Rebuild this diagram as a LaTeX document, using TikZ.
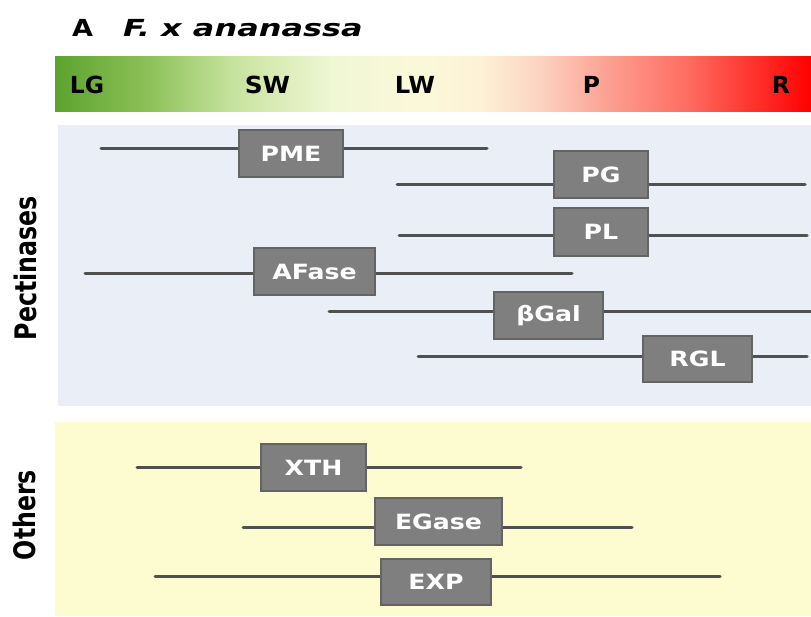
\documentclass[tikz,border=0pt]{standalone}
\usepackage{fontspec}
\setsansfont{DejaVu Sans}[BoldFont={DejaVu Sans Bold},ItalicFont={DejaVu Sans Oblique},BoldItalicFont={DejaVu Sans Bold Oblique}]
\definecolor{g0}{HTML}{5EA22E}
\definecolor{g1}{HTML}{8DC25A}
\definecolor{g2}{HTML}{C6E29C}
\definecolor{g3}{HTML}{EFF7D3}
\definecolor{g4}{HTML}{FBF8DA}
\definecolor{g5}{HTML}{FDF1D6}
\definecolor{g6}{HTML}{FCD3C0}
\definecolor{g7}{HTML}{FCA596}
\definecolor{g8}{HTML}{FE6A5E}
\definecolor{g9}{HTML}{FF0000}
\definecolor{pectbg}{HTML}{E9EEF7}
\definecolor{othbg}{HTML}{FDFBD0}
\definecolor{boxfill}{HTML}{7F7F7F}
\definecolor{boxedge}{HTML}{646464}
\definecolor{barcol}{HTML}{505050}
\newcommand{\bxt}[1]{\scalebox{1.2}[1]{#1}}
\pgfdeclarelayer{back}
\pgfdeclarelayer{lines}
\pgfsetlayers{back,lines,main}
\tikzset{
  enzbox/.style={draw=boxedge, fill=boxfill, line width=1.2pt, inner sep=0pt,
    minimum height=47pt, text=white, font=\sffamily\bfseries\fontsize{21}{24}\selectfont},
  bar/.style={draw=barcol, line width=3pt, line cap=round},
  stage/.style={anchor=base, inner sep=0pt, font=\sffamily\bfseries\fontsize{23.5}{26}\selectfont},
  grouplbl/.style={rotate=90, inner sep=0pt, font=\sffamily\bfseries\fontsize{23.7}{26}\selectfont},
  titlelbl/.style={anchor=base west, inner sep=0pt, font=\sffamily\bfseries\fontsize{23.5}{26}\selectfont}
}
\begin{document}
\begin{tikzpicture}[x=1pt,y=-1pt]
\useasboundingbox (0,0) rectangle (811,617);
\begin{pgfonlayer}{back}
\fill[white] (0,0) rectangle (811,617);
% gradient bar
\shade[left color=g0,right color=g1] (55,57) rectangle (151,112);
\shade[left color=g1,right color=g2] (150,57) rectangle (231,112);
\shade[left color=g2,right color=g3] (230,57) rectangle (331,112);
\shade[left color=g3,right color=g4] (330,57) rectangle (421,112);
\shade[left color=g4,right color=g5] (420,57) rectangle (481,112);
\shade[left color=g5,right color=g6] (480,57) rectangle (541,112);
\shade[left color=g6,right color=g7] (540,57) rectangle (601,112);
\shade[left color=g7,right color=g8] (600,57) rectangle (691,112);
\shade[left color=g8,right color=g9] (690,57) rectangle (811,112);
% panels
\fill[pectbg] (58,125) rectangle (811,406);
\fill[othbg] (55,422) rectangle (811,616);
\end{pgfonlayer}

% title
\node[titlelbl] (tA) at (72,37) {\scalebox{1.15}[1]{A}};
\node[titlelbl, font=\sffamily\bfseries\itshape\fontsize{23.5}{26}\selectfont] (tname) at (123,37) {\scalebox{1.36}[1]{F. x ananassa}};

% stage labels
\node[stage] (LG) at (87,94) {LG};
\node[stage] (SW) at (267.5,94) {\scalebox{1.06}[1]{SW}};
\node[stage] (LW) at (415,94) {\scalebox{1.03}[1]{LW}};
\node[stage] (P) at (591.5,94) {P};
\node[stage] (R) at (781,94) {R};

% group labels
\node[grouplbl] (pect) at (25,268) {\scalebox{1}[1.25]{Pectinases}};
\node[grouplbl] (oth) at (24,515) {\scalebox{1}[1.25]{Others}};

% enzyme boxes
\node[enzbox, minimum width=104pt] (pme) at (291,153.5) {\bxt{PME}};
\node[enzbox, minimum width=94pt] (pg) at (601,174.5) {\bxt{PG}};
\node[enzbox, minimum width=94pt, minimum height=48pt] (pl) at (601,232) {\bxt{PL}};
\node[enzbox, minimum width=121pt] (afase) at (314.5,271.5) {\bxt{AFase}};
\node[enzbox, minimum width=109pt] (bgal) at (548.5,315.5) {\bxt{βGal}};
\node[enzbox, minimum width=109pt, minimum height=46pt] (rgl) at (697.5,359) {\bxt{RGL}};
\node[enzbox, minimum width=105pt] (xth) at (313.5,467.5) {\bxt{XTH}};
\node[enzbox, minimum width=127pt] (egase) at (438.5,521.5) {\bxt{EGase}};
\node[enzbox, minimum width=110pt, minimum height=46pt] (exp) at (436,582) {\bxt{EXP}};

% line end points
\coordinate (pmeL) at (101,149);   \coordinate (pmeR) at (487,149);
\coordinate (pgL) at (397,185);    \coordinate (pgR) at (805,185);
\coordinate (plL) at (399,236);    \coordinate (plR) at (807,236);
\coordinate (afL) at (85,274);     \coordinate (afR) at (572,274);
\coordinate (bgL) at (329,312);    \coordinate (bgR) at (812,312);
\coordinate (rgL) at (418,357);    \coordinate (rgR) at (807,357);
\coordinate (xtL) at (137,467);    \coordinate (xtR) at (521,467);
\coordinate (egL) at (243,527);    \coordinate (egR) at (632,527);
\coordinate (exL) at (155,576);    \coordinate (exR) at (720,576);

\begin{pgfonlayer}{lines}
\draw[bar] (pmeL) -- (pme.center |- pmeL) -- (pmeR);
\draw[bar] (pgL) -- (pg.center |- pgL) -- (pgR);
\draw[bar] (plL) -- (pl.center |- plL) -- (plR);
\draw[bar] (afL) -- (afase.center |- afL) -- (afR);
\draw[bar] (bgL) -- (bgal.center |- bgL) -- (bgR);
\draw[bar] (rgL) -- (rgl.center |- rgL) -- (rgR);
\draw[bar] (xtL) -- (xth.center |- xtL) -- (xtR);
\draw[bar] (egL) -- (egase.center |- egL) -- (egR);
\draw[bar] (exL) -- (exp.center |- exL) -- (exR);
\end{pgfonlayer}
\end{tikzpicture}
\end{document}
